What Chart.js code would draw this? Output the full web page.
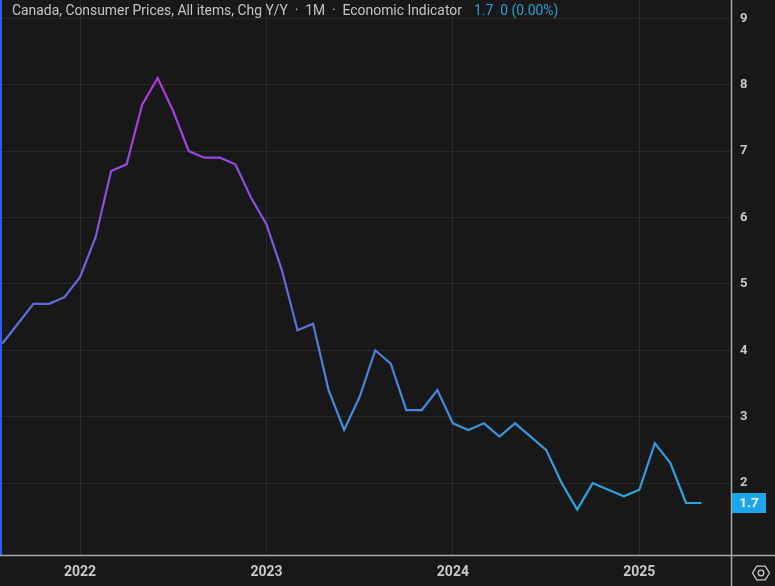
<!DOCTYPE html>
<html>
<head>
<meta charset="utf-8">
<style>
  html, body { margin: 0; padding: 0; background: #181818; }
  canvas { display: block; }
</style>
<script src="https://cdn.jsdelivr.net/npm/chart.js@4"></script>
</head>
<body>
<canvas id="myChart" width="775" height="586"></canvas>
<script>
// months counted from Jan 2022 = 0
const monthIndex = [-5,-4,-3,-2,-1,0,1,2,3,4,5,6,7,8,9,10,11,12,13,14,15,16,17,18,19,20,21,22,23,24,25,26,27,28,29,30,31,32,33,34,35,36,37,38,39,40];
const cpiValues = [4.1,4.4,4.7,4.7,4.8,5.1,5.7,6.7,6.8,7.7,8.1,7.6,7.0,6.9,6.9,6.8,6.3,5.9,5.2,4.3,4.4,3.4,2.8,3.3,4.0,3.8,3.1,3.1,3.4,2.9,2.8,2.9,2.7,2.9,2.7,2.5,2.0,1.6,2.0,1.9,1.8,1.9,2.6,2.3,1.7,1.7];
const yearTicks = [0, 12, 24, 36];
const yearLabels = ['2022', '2023', '2024', '2025'];
const valueTicks = [2, 3, 4, 5, 6, 7, 8, 9];
const lastValue = 1.7;

const titleText = 'Canada, Consumer Prices, All items, Chg Y/Y  ·  1M  ·  Economic Indicator';
const changeText = '1.7  0 (0.00%)';

const BG = '#181818';
const LINE_LIGHT = '#a8a8a8';

// Line colour goes by height: purple at the top, cyan at the bottom
function lineGradient(context) {
  const area = context.chart.chartArea;
  if (!area) return '#4a80e0';
  const y = context.chart.scales.y;
  const g = context.chart.ctx.createLinearGradient(0, y.getPixelForValue(8.1), 0, y.getPixelForValue(1.6));
  g.addColorStop(0, '#b038e0');
  g.addColorStop(0.3, '#8a50dc');
  g.addColorStop(0.55, '#5a70da');
  g.addColorStop(0.8, '#3f8fdc');
  g.addColorStop(1, '#2aa9e0');
  return g;
}

const decorPlugin = {
  id: 'decor',
  beforeDraw(chart) {
    const c = chart.ctx;
    c.save();
    c.fillStyle = BG;
    c.fillRect(0, 0, chart.width, chart.height);
    c.restore();
  },
  afterDraw(chart) {
    const c = chart.ctx;
    const area = chart.chartArea;
    c.save();

    // left edge marker
    c.fillStyle = '#2f5cf5';
    c.fillRect(0, 0, 2, area.bottom);

    // axis frame
    c.strokeStyle = LINE_LIGHT;
    c.lineWidth = 1.5;
    c.beginPath();
    c.moveTo(area.right + 0.5, 0);
    c.lineTo(area.right + 0.5, chart.height);
    c.moveTo(0, area.bottom + 0.5);
    c.lineTo(chart.width, area.bottom + 0.5);
    c.stroke();

    // header
    c.font = '13.9px Roboto';
    c.textBaseline = 'middle';
    c.textAlign = 'left';
    c.fillStyle = '#c4c4c4';
    c.fillText(titleText, 12, 12);
    c.fillStyle = '#2a9fd8';
    c.fillText(changeText, 474, 12);

    // last value badge
    const by = chart.scales.y.getPixelForValue(lastValue);
    c.fillStyle = '#1ea7e8';
    c.fillRect(area.right + 1, by - 10, 34, 20);
    c.fillStyle = '#f0f0f0';
    c.font = 'bold 13.5px Roboto';
    c.textAlign = 'center';
    c.fillText(String(lastValue), area.right + 18, by + 0.5);

    // settings icon
    const ix = 761, iy = 573;
    c.strokeStyle = '#c8c8c8';
    c.lineWidth = 1.3;
    c.beginPath();
    for (let i = 0; i < 6; i++) {
      const a = i * Math.PI / 3;
      const px = ix + 8.5 * Math.cos(a), py = iy + 8 * Math.sin(a);
      if (i === 0) c.moveTo(px, py); else c.lineTo(px, py);
    }
    c.closePath();
    c.stroke();
    c.beginPath();
    c.arc(ix, iy, 2.8, 0, Math.PI * 2);
    c.stroke();

    c.restore();
  }
};

const ctx = document.getElementById('myChart').getContext('2d');
const chart = new Chart(ctx, {
  type: 'line',
  data: {
    datasets: [{
      label: 'Canada CPI Chg Y/Y',
      data: monthIndex.map((m, i) => ({ x: m, y: cpiValues[i] })),
      borderColor: lineGradient,
      borderWidth: 2.2,
      tension: 0,
      fill: false,
      pointRadius: 0
    }]
  },
  options: {
    responsive: false,
    devicePixelRatio: 1,
    animation: false,
    layout: { padding: 0 },
    plugins: {
      legend: { display: false },
      title: { display: false },
      tooltip: { enabled: false }
    },
    scales: {
      x: {
        type: 'linear',
        min: -5.15,
        max: 41.9,
        afterBuildTicks(axis) { axis.ticks = yearTicks.map(v => ({ value: v })); },
        afterFit(axis) { axis.height = 31; axis.paddingLeft = 0; axis.paddingRight = 0; },
        ticks: {
          autoSkip: false,
          maxRotation: 0,
          padding: 9,
          color: '#c8c8c8',
          font: { family: 'Roboto', size: 14, weight: 'bold' },
          callback: v => yearLabels[yearTicks.indexOf(v)]
        },
        grid: { color: '#292929', drawTicks: false },
        border: { display: false }
      },
      y: {
        position: 'right',
        min: 0.917,
        max: 9.275,
        afterBuildTicks(axis) { axis.ticks = valueTicks.map(v => ({ value: v })); },
        afterFit(axis) { axis.width = 44; axis.paddingTop = 0; axis.paddingBottom = 0; },
        ticks: {
          padding: 9,
          color: '#c8c8c8',
          font: { family: 'Roboto', size: 13, weight: 'bold' },
          callback: v => String(v)
        },
        grid: { color: '#292929', drawTicks: false },
        border: { display: false }
      }
    }
  },
  plugins: [decorPlugin]
});
</script>
</body>
</html>
